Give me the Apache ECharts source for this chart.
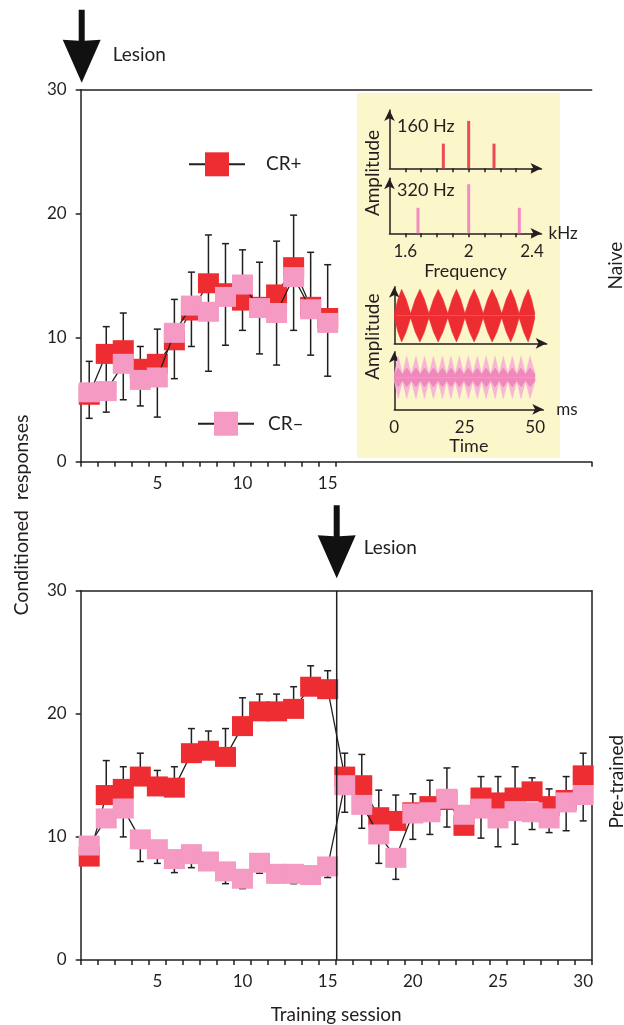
<!DOCTYPE html>
<html><head><meta charset="utf-8">
<script src="https://cdn.jsdelivr.net/npm/echarts@6/dist/echarts.min.js"></script>
<style>html,body{margin:0;padding:0;background:#fff}#c{width:624px;height:1025px}</style>
</head><body><div id="c"></div>
<script>
// ---------- data ----------
const sessions = ['1','2','3','4','5','6','7','8','9','10','11','12','13','14','15','16','17','18','19','20','21','22','23','24','25','26','27','28','29','30'];

// Naive (top panel), sessions 1-15
const topCRplus  = [5.4, 8.7, 9.0, 7.5, 7.9, 9.8, 12.2, 14.4, 13.6, 13.0, 12.5, 13.5, 15.7, 12.5, 11.6];
const topCRminus = [5.6, 5.7, 7.9, 6.6, 6.8, 10.4, 12.6, 12.1, 13.3, 14.3, 12.4, 12.0, 14.9, 12.3, 11.2];
const topUpper   = [8.1, 10.9, 12.0, 9.3, 10.7, 13.1, 15.3, 18.3, 17.6, 17.1, 16.1, 17.8, 19.9, 16.9, 15.9];
const topLower   = [3.5, 4.0, 5.0, 4.5, 3.6, 6.7, 9.3, 7.3, 9.4, 10.6, 8.7, 7.8, 10.6, 8.6, 6.9];

// Pre-trained (bottom panel), sessions 1-30
const botCRplus  = [8.4, 13.4, 13.9, 14.9, 14.1, 14.0, 16.8, 17.0, 16.5, 19.0, 20.2, 20.2, 20.4, 22.2, 22.0, 14.9, 14.2, 11.6, 11.3, 12.0, 12.5, 13.0, 10.9, 13.2, 12.8, 13.2, 13.7, 12.5, 13.0, 15.0];
const botCRminus = [9.3, 11.5, 12.3, 9.8, 9.0, 8.2, 8.6, 8.0, 7.2, 6.6, 7.9, 7.0, 7.0, 6.9, 7.6, 14.2, 12.6, 10.2, 8.3, 11.9, 12.0, 13.1, 11.8, 12.3, 11.5, 12.1, 12.0, 11.5, 12.8, 13.4];
const botUpper   = [9.2, 16.2, 15.7, 16.8, 15.4, 15.7, 18.8, 18.6, 18.8, 21.3, 21.6, 21.6, 22.2, 23.9, 23.5, 16.8, 16.7, 13.8, 13.4, 13.5, 14.6, 15.6, 12.2, 14.9, 14.9, 15.7, 14.8, 13.9, 14.9, 16.8];
const botLower   = [8.0, 10.8, 10.0, 8.0, 7.85, 7.1, 7.5, 7.45, 6.2, 5.8, 7.05, 6.3, 6.2, 6.3, 6.7, 12.0, 10.7, 7.85, 6.55, 9.8, 10.2, 10.8, 10.5, 9.9, 9.2, 9.4, 10.6, 10.35, 10.5, 11.3];

const lesionNaiveAfter = 0;       // lesion before session 1
const lesionPretrainedAfter = 15; // lesion after session 15

// inset: spectra (kHz, relative amplitude)
const spec160Freq = [1.84, 2.0, 2.16];
const spec160Amp  = [0.52, 1.0, 0.52];
const spec320Freq = [1.68, 2.0, 2.32];
const spec320Amp  = [0.52, 1.0, 0.52];
const freqTicks  = [1.6, 1.7, 1.8, 1.9, 2.0, 2.1, 2.2, 2.3, 2.4];
const freqLabels = [1.6, 2.0, 2.4];
const timeLabels = [0, 25, 50];

// inset: waveform envelopes (ms, relative amplitude)
const redEnvTime = [0, 1.3, 2.6, 4.2, 5.8, 7.45, 9.1, 10.7, 12.3, 13.95, 15.6, 17.3, 19.0, 20.55, 22.1, 23.6, 25.1, 26.75, 28.4, 30.0, 31.6, 33.2, 34.8, 36.5, 38.2, 39.8, 41.4, 42.9, 44.4, 46.0, 47.6, 48.8, 50];
const redEnvAmp  = [0.08, 0.62, 1.0, 0.62, 0.08, 0.62, 1.0, 0.62, 0.08, 0.62, 1.0, 0.62, 0.08, 0.62, 1.0, 0.62, 0.08, 0.62, 1.0, 0.62, 0.08, 0.62, 1.0, 0.62, 0.08, 0.62, 1.0, 0.62, 0.08, 0.62, 1.0, 0.62, 0.08];
const pinkEnvTime = [0, 1.4, 2.9, 4.4, 6.0, 7.7, 9.2, 10.7, 12.3, 13.9, 15.5, 17.1, 18.6, 20.1, 21.6, 23.1, 24.7, 26.3, 27.9, 29.5, 31.0, 32.6, 34.2, 35.8, 37.2, 38.7, 40.3, 41.9, 43.5, 45.0, 46.6, 48.2, 50];
const pinkOuterAmp = [0.12, 0.8, 0.12, 0.8, 0.12, 0.8, 0.12, 0.8, 0.12, 0.8, 0.12, 0.8, 0.12, 0.8, 0.12, 0.8, 0.12, 0.8, 0.12, 0.8, 0.12, 0.8, 0.12, 0.8, 0.12, 0.8, 0.12, 0.8, 0.12, 0.8, 0.12, 0.8, 0.12];
const pinkInnerAmp = [0.12, 0.36, 0.12, 0.36, 0.12, 0.36, 0.12, 0.36, 0.12, 0.36, 0.12, 0.36, 0.12, 0.36, 0.12, 0.36, 0.12, 0.36, 0.12, 0.36, 0.12, 0.36, 0.12, 0.36, 0.12, 0.36, 0.12, 0.36, 0.12, 0.36, 0.12, 0.36, 0.12];

// ---------- style ----------
const RED = '#EE2D32', PINK = '#F49AC3', PINK_LIGHT = '#F7B6D4', INK = '#231F20', YELLOW = '#FCF6CB';
const FONT = 'Lato';
const axisLine = {show: true, onZero: false, lineStyle: {color: INK, width: 1.5}};
const lbl = {color: INK, fontFamily: FONT, fontSize: 17};

function errRender(capBoth) {
  return function (params, api) {
    const x = api.value(0);
    const p1 = api.coord([x, api.value(1)]);
    const p2 = api.coord([x, api.value(2)]);
    const w = 3.5;
    const st = {stroke: INK, lineWidth: 1.5};
    const ch = [{type: 'line', shape: {x1: p1[0], y1: p1[1], x2: p2[0], y2: p2[1]}, style: st}];
    ch.push({type: 'line', shape: {x1: p2[0] - w, y1: p2[1], x2: p2[0] + w, y2: p2[1]}, style: st});
    if (capBoth) ch.push({type: 'line', shape: {x1: p1[0] - w, y1: p1[1], x2: p1[0] + w, y2: p1[1]}, style: st});
    return {type: 'group', children: ch};
  };
}

const chart = echarts.init(document.getElementById('c'));

const catAxis = (grid, pos, extra) => Object.assign({
  type: 'category', gridIndex: grid, position: pos, data: sessions, boundaryGap: true,
  axisLine: axisLine, splitLine: {show: false}
}, extra);
const arrowLine = Object.assign({symbol: ['none', 'arrow'], symbolSize: [8, 11]}, axisLine);

const option = {
  animation: false,
  backgroundColor: '#fff',
  textStyle: {fontFamily: FONT},
  grid: [
    {left: 80.7, top: 90, width: 511, height: 371.7},
    {left: 80.7, top: 590.7, width: 511, height: 371.6},
    {left: 389.5, top: 110, width: 152, height: 58.3},
    {left: 389.5, top: 178.3, width: 152, height: 55},
    {left: 394.3, top: 286.7, width: 152.4, height: 56.6},
    {left: 394.3, top: 351.7, width: 149, height: 57.6}
  ],
  xAxis: [
    catAxis(0, 'bottom', {
      axisTick: {show: true, length: 5, lineStyle: {color: INK, width: 1.5}, interval: (i) => i <= 15},
      axisLabel: Object.assign({margin: 13, interval: (i) => i < 15 && (i + 1) % 5 === 0}, lbl)
    }),
    catAxis(0, 'top', {axisTick: {show: false}, axisLabel: {show: false}}),
    catAxis(1, 'bottom', {
      axisTick: {show: true, length: 5, lineStyle: {color: INK, width: 1.5}, interval: 0},
      axisLabel: Object.assign({margin: 13, interval: (i) => (i + 1) % 5 === 0}, lbl),
      name: 'Training session', nameLocation: 'middle', nameGap: 45,
      nameTextStyle: {color: INK, fontFamily: FONT, fontSize: 19}
    }),
    catAxis(1, 'top', {axisTick: {show: false}, axisLabel: {show: false}}),
    {type: 'value', gridIndex: 2, min: 1.5, max: 2.46, axisLine: arrowLine,
      axisTick: {show: true, length: 4, customValues: freqTicks, lineStyle: {color: INK, width: 1.5}}, axisLabel: {show: false}, splitLine: {show: false}},
    {type: 'value', gridIndex: 3, min: 1.5, max: 2.46, axisLine: arrowLine,
      axisTick: {show: true, length: 4, customValues: freqTicks, lineStyle: {color: INK, width: 1.5}},
      axisLabel: Object.assign({margin: 10, customValues: freqLabels, formatter: (v) => (v === 2 ? '2' : String(v))}, lbl),
      splitLine: {show: false},
      name: 'Frequency', nameLocation: 'middle', nameGap: 29, nameTextStyle: {color: INK, fontFamily: FONT, fontSize: 18}},
    {type: 'value', gridIndex: 4, min: 0, max: 54.2, axisLine: arrowLine,
      axisTick: {show: false}, axisLabel: {show: false}, splitLine: {show: false}},
    {type: 'value', gridIndex: 5, min: 0, max: 52.9, axisLine: arrowLine,
      axisTick: {show: false}, axisLabel: Object.assign({margin: 10, customValues: timeLabels}, lbl), splitLine: {show: false},
      name: 'Time', nameLocation: 'middle', nameGap: 28, nameTextStyle: {color: INK, fontFamily: FONT, fontSize: 18}}
  ],
  yAxis: [
    {type: 'value', gridIndex: 0, min: 0, max: 30, interval: 10, axisLine: axisLine,
      axisTick: {show: true, length: 5, lineStyle: {color: INK, width: 1.5}}, axisLabel: Object.assign({margin: 14}, lbl), splitLine: {show: false}},
    {type: 'value', gridIndex: 1, min: 0, max: 30, interval: 10, axisLine: axisLine,
      axisTick: {show: true, length: 5, lineStyle: {color: INK, width: 1.5}}, axisLabel: Object.assign({margin: 14}, lbl), splitLine: {show: false}},
    {type: 'value', gridIndex: 1, position: 'right', min: 0, max: 30, axisLine: axisLine, axisTick: {show: false}, axisLabel: {show: false}, splitLine: {show: false}},
    {type: 'value', gridIndex: 2, min: 0, max: 1.23, axisLine: arrowLine, axisTick: {show: false}, axisLabel: {show: false}, splitLine: {show: false}},
    {type: 'value', gridIndex: 3, min: 0, max: 1.12, axisLine: arrowLine, axisTick: {show: false}, axisLabel: {show: false}, splitLine: {show: false}},
    {type: 'value', gridIndex: 4, min: -1.05, max: 1.1, axisLine: arrowLine, axisTick: {show: false}, axisLabel: {show: false}, splitLine: {show: false}},
    {type: 'value', gridIndex: 5, min: -1.21, max: 0.98, axisLine: arrowLine, axisTick: {show: false}, axisLabel: {show: false}, splitLine: {show: false}}
  ],
  legend: [
    {data: ['CR+'], left: 188, top: 152.3, padding: 0, itemWidth: 56, itemHeight: 30, selectedMode: false,
      textStyle: {color: INK, fontFamily: FONT, fontSize: 19, padding: [0, 0, 0, 16]}},
    {data: ['CR–'], left: 197, top: 411.7, padding: 0, itemWidth: 56, itemHeight: 30, selectedMode: false,
      textStyle: {color: INK, fontFamily: FONT, fontSize: 19, padding: [0, 0, 0, 9]}}
  ],
  series: []
};

const lineSeries = (name, xi, yi, data, color, z) => ({
  name, type: 'line', xAxisIndex: xi, yAxisIndex: yi, data,
  symbol: 'rect', symbolSize: [21, 20], showAllSymbol: true,
  itemStyle: {color: color}, lineStyle: {color: INK, width: 1.3}, z: z
});

option.series.push(
  {type: 'custom', xAxisIndex: 0, yAxisIndex: 0, z: 1, renderItem: errRender(true), encode: {x: 0, y: [1, 2]},
    data: topCRplus.map((v, i) => [i, topLower[i], topUpper[i]])},
  lineSeries('CR+', 0, 0, topCRplus, RED, 3),
  lineSeries('CR–', 0, 0, topCRminus, PINK, 4),
  {type: 'custom', xAxisIndex: 2, yAxisIndex: 1, z: 1, renderItem: errRender(false), encode: {x: 0, y: [1, 2]},
    data: botCRplus.map((v, i) => [i, v, botUpper[i]])},
  {type: 'custom', xAxisIndex: 2, yAxisIndex: 1, z: 1, renderItem: errRender(false), encode: {x: 0, y: [1, 2]},
    data: botCRminus.map((v, i) => [i, v, botLower[i]])},
  lineSeries('CR+', 2, 1, botCRplus, RED, 3),
  lineSeries('CR–', 2, 1, botCRminus, PINK, 4),
  // spectra
  {type: 'bar', xAxisIndex: 4, yAxisIndex: 3, barWidth: 3, itemStyle: {color: '#EC4A55'}, z: 5,
    data: spec160Freq.map((f, i) => [f, spec160Amp[i]])},
  {type: 'bar', xAxisIndex: 5, yAxisIndex: 4, barWidth: 3, itemStyle: {color: '#F28CC0'}, z: 5,
    data: spec320Freq.map((f, i) => [f, spec320Amp[i]])}
);

const env = (xi, yi, times, amps, sign, color) => ({
  type: 'line', xAxisIndex: xi, yAxisIndex: yi, showSymbol: false, symbol: 'none', z: 5,
  lineStyle: {color: color, width: 0.6}, areaStyle: {color: color, opacity: 1},
  data: times.map((t, i) => [t, sign * amps[i]])
});
option.series.push(
  env(6, 5, redEnvTime, redEnvAmp, 1, RED), env(6, 5, redEnvTime, redEnvAmp, -1, RED),
  env(7, 6, pinkEnvTime, pinkOuterAmp, 1, PINK_LIGHT), env(7, 6, pinkEnvTime, pinkOuterAmp, -1, PINK_LIGHT),
  env(7, 6, pinkEnvTime, pinkInnerAmp, 1, '#F088BC'), env(7, 6, pinkEnvTime, pinkInnerAmp, -1, '#F088BC')
);

chart.setOption(option);

// ---------- annotations positioned through the axes ----------
function boundaryX(xAxisIndex, after) {
  const c1 = chart.convertToPixel({xAxisIndex: xAxisIndex}, sessions[0]);
  const c2 = chart.convertToPixel({xAxisIndex: xAxisIndex}, sessions[1]);
  const band = c2 - c1;
  return c1 - band / 2 + after * band;
}
const topY30 = chart.convertToPixel({yAxisIndex: 0}, 30);
const botY30 = chart.convertToPixel({yAxisIndex: 1}, 30);
const botY0 = chart.convertToPixel({yAxisIndex: 1}, 0);
const ax1 = boundaryX(0, lesionNaiveAfter) + 1;
const ax2 = boundaryX(2, lesionPretrainedAfter) + 0.5;

function arrow(tx, ty) {
  return {type: 'polygon', z: 10, shape: {points: [
    [tx - 3, ty - 73], [tx + 3, ty - 73], [tx + 3, ty - 42], [tx + 19, ty - 43], [tx, ty], [tx - 19, ty - 43], [tx - 3, ty - 42]
  ]}, style: {fill: '#111'}};
}
function txt(t, x, y, size, opts) {
  return Object.assign({type: 'text', x: x, y: y, z: 10, style: Object.assign({
    text: t, fill: INK, fontFamily: FONT, fontSize: size,
    align: 'left', textAlign: 'left', verticalAlign: 'middle', textVerticalAlign: 'middle'
  }, (opts && opts.style) || {})}, (opts && opts.el) || {});
}
const vCenter = {style: {align: 'center', textAlign: 'center'}, el: {rotation: Math.PI / 2}};

const kHzX = chart.convertToPixel({xAxisIndex: 5}, 2.46);
const kHzY = chart.convertToPixel({yAxisIndex: 4}, 0);
const msX = chart.convertToPixel({xAxisIndex: 7}, 52.9);
const msY = chart.convertToPixel({yAxisIndex: 6}, -1.21);

chart.setOption({
  graphic: {elements: [
    {type: 'rect', z: -1, shape: {x: 357, y: 93, width: 203, height: 365}, style: {fill: YELLOW}},
    arrow(ax1, topY30 - 7.3),
    txt('Lesion', ax1 + 31, topY30 - 35, 19),
    arrow(ax2, botY30 - 12.4),
    txt('Lesion', ax2 + 27, botY30 - 42.7, 19),
    {type: 'line', z: 6, shape: {x1: ax2, y1: botY30, x2: ax2, y2: botY0}, style: {stroke: INK, lineWidth: 1.5}},
    txt('Conditioned  responses', 22, 515, 19.5, vCenter),
    txt('Naive', 615.5, 265.5, 19, vCenter),
    txt('Pre-trained', 616.5, 781.7, 19, vCenter),
    txt('Amplitude', 373, 173, 19, vCenter),
    txt('Amplitude', 373, 336.7, 19, vCenter),
    txt('160 Hz', 397, 126, 18),
    txt('320 Hz', 397, 190, 18),
    txt('kHz', kHzX + 7, kHzY, 17),
    txt('ms', msX + 13, msY, 17)
  ]}
});
</script>
</body></html>
